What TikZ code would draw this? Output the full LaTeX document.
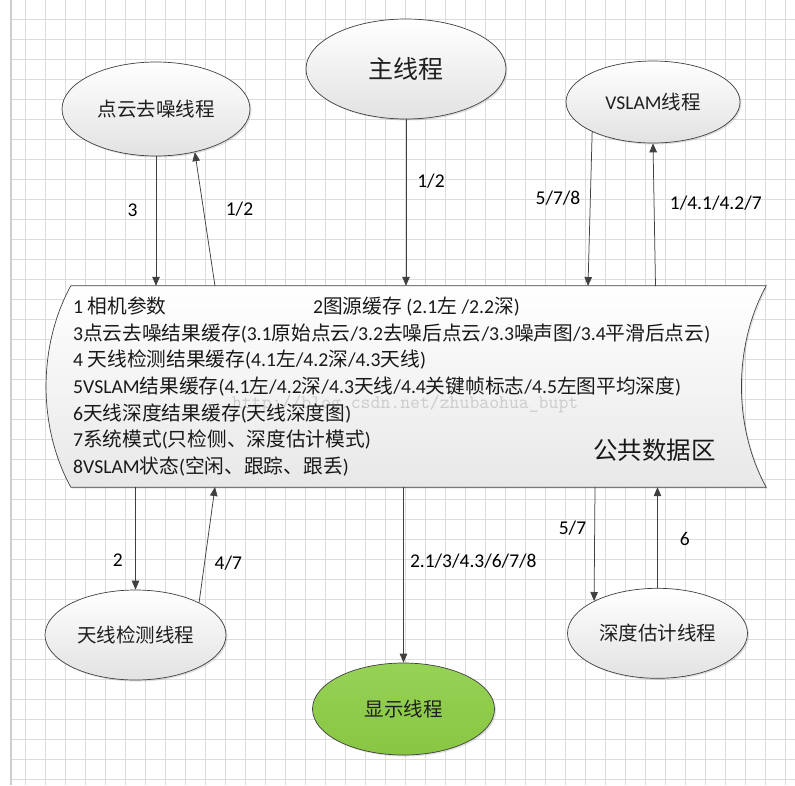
\documentclass[tikz,border=0pt]{standalone}
\usepackage{fontspec}
\setmainfont{Carlito}
\newfontfamily\cjkf{Noto Sans CJK SC}
\usetikzlibrary{arrows.meta,shadows,calc,shapes.geometric}
\newcommand\zhtxt[1]{{\cjkf #1}}
\definecolor{linec}{RGB}{64,64,64}
\definecolor{gridc}{RGB}{220,220,220}
\definecolor{gridb}{RGB}{205,205,205}
\definecolor{greentop}{RGB}{150,210,86}
\definecolor{greenbot}{RGB}{136,198,66}
\definecolor{ellbot}{RGB}{226,226,226}
\definecolor{databot}{RGB}{232,232,232}
\definecolor{wmark}{RGB}{204,204,204}
\tikzset{
  gridline/.style={draw=gridc, line width=0.8pt},
  thread/.style={ellipse, draw=linec, line width=0.7pt, top color=white, bottom color=ellbot,
    inner sep=0pt, text=black!88, font=\fontsize{19.5}{23}\selectfont,
    drop shadow={shadow xshift=1.5pt, shadow yshift=-1.5pt, opacity=0.25}},
  greenthread/.style={thread, top color=greentop, bottom color=greenbot},
  arr/.style={draw=linec, line width=0.75pt, -{Triangle[length=9pt,width=7.5pt]}},
  lbl/.style={inner sep=0pt, text=black, font=\fontsize{19.5}{23}\selectfont},
  dtxt/.style={anchor=base west, inner sep=0pt, text=black!90, font=\fontsize{19.7}{23}\selectfont},
}
\begin{document}
\begin{tikzpicture}[x=1pt,y=-1pt]
\useasboundingbox (0,0) rectangle (795,785);
\fill[white] (0,0) rectangle (795,785);
% grid
\foreach \k in {0,...,38} \draw[gridline] ({25+20*\k},0) -- ({25+20*\k},785);
\foreach \k in {0,...,38} \draw[gridline] (11,{19.3+20*\k}) -- (795,{19.3+20*\k});
\draw[draw=gridb, line width=1.6pt] (11,0) -- (11,785);

% data area
\node[minimum width=695pt, minimum height=201pt, inner sep=0pt] (data) at (418.5,386.5) {};
\shade[top color=white, bottom color=databot, draw=linec, line width=0.7pt,
  drop shadow={shadow xshift=1.5pt, shadow yshift=-1.5pt, opacity=0.2}]
  (data.north west) -- (data.north east)
  .. controls ($(data.north east)+(-33,60)$) and ($(data.south east)+(-33,-60)$) .. (data.south east)
  -- (data.south west)
  .. controls ($(data.south west)+(-33,-60)$) and ($(data.north west)+(-33,60)$) .. cycle;

% watermark
\node[anchor=west, inner sep=0pt, text=wmark, font=\ttfamily\fontsize{19.2}{20}\selectfont] (wm) at (232,404) {http://blog.csdn.net/zhubaohua\_bupt};

% data text
\node[dtxt] (t1) at (73,313.5) {1 \zhtxt{相机参数}};
\node[dtxt] (t1b) at (313,313.5) {2\zhtxt{图源缓存} (2.1\zhtxt{左} /2.2\zhtxt{深})};
\node[dtxt] (t3) at (73,340.2) {3\zhtxt{点云去噪结果缓存}(3.1\zhtxt{原始点云}/3.2\zhtxt{去噪后点云}/3.3\zhtxt{噪声图}/3.4\zhtxt{平滑后点云})};
\node[dtxt] (t4) at (73,366.8) {4 \zhtxt{天线检测结果缓存}(4.1\zhtxt{左}/4.2\zhtxt{深}/4.3\zhtxt{天线})};
\node[dtxt] (t5) at (73,393.5) {5VSLAM\zhtxt{结果缓存}(4.1\zhtxt{左}/4.2\zhtxt{深}/4.3\zhtxt{天线}/4.4\zhtxt{关键帧标志}/4.5\zhtxt{左图平均深度})};
\node[dtxt] (t6) at (73,420.2) {6\zhtxt{天线深度结果缓存}(\zhtxt{天线深度图})};
\node[dtxt] (t7) at (73,446.8) {7\zhtxt{系统模式}(\zhtxt{只检侧、深度估计模式})};
\node[dtxt] (t8) at (73,473.5) {8VSLAM\zhtxt{状态}(\zhtxt{空闲、跟踪、跟丢})};
\node[inner sep=0pt, text=black!90, font=\fontsize{24.5}{28}\selectfont] (pub) at (654.5,450) {\zhtxt{公共数据区}};

% threads
\node[thread, minimum width=188pt, minimum height=94pt] (dn) at (156,109) {\zhtxt{点云去噪线程}};
\node[thread, minimum width=200pt, minimum height=100pt, font=\fontsize{25}{28}\selectfont] (mt) at (406,69) {\zhtxt{主线程}};
\node[thread, minimum width=174pt, minimum height=82pt] (vs) at (653,102) {VSLAM\zhtxt{线程}};
\node[thread, minimum width=181pt, minimum height=90pt] (ad) at (135.5,635) {\zhtxt{天线检测线程}};
\node[greenthread, minimum width=182pt, minimum height=92pt] (ds) at (403.5,709) {\zhtxt{显示线程}};
\node[thread, minimum width=180pt, minimum height=90pt] (sd) at (657.5,633.3) {\zhtxt{深度估计线程}};

% free ends on the data area
\coordinate (a2) at (215,286);
\coordinate (a4) at (588,286);
\coordinate (a5) at (655.5,286);
\coordinate (a7) at (215,487);
\coordinate (a9) at (595,487);

% connectors
\draw[arr] (dn.south) -- (dn.south |- data.north);
\draw[arr] (a2) -- (dn.-48);
\draw[arr] (mt.south) -- (mt.south |- data.north);
\draw[arr] (vs.206) -- (a4);
\draw[arr] (a5) -- (vs.south);
\draw[arr] (ad.north |- data.south) -- (ad.north);
\draw[arr] (ad.27) -- (a7);
\draw[arr] (ds.north |- data.south) -- (ds.north);
\draw[arr] (a9) -- (sd.153);
\draw[arr] (sd.north) -- (sd.north |- data.south);

% labels
\node[lbl] (l1) at (132.5,210.5) {3};
\node[lbl] (l2) at (239.5,209.5) {1/2};
\node[lbl] (l3) at (431,181.5) {1/2};
\node[lbl] (l4) at (558,198) {5/7/8};
\node[lbl] (l5) at (715.8,203) {1/4.1/4.2/7};
\node[lbl] (l6) at (117.8,560.5) {2};
\node[lbl] (l7) at (228.3,563.5) {4/7};
\node[lbl] (l8) at (473.3,561.5) {2.1/3/4.3/6/7/8};
\node[lbl] (l9) at (572.5,528) {5/7};
\node[lbl] (l10) at (684.7,539) {6};
\end{tikzpicture}
\end{document}
